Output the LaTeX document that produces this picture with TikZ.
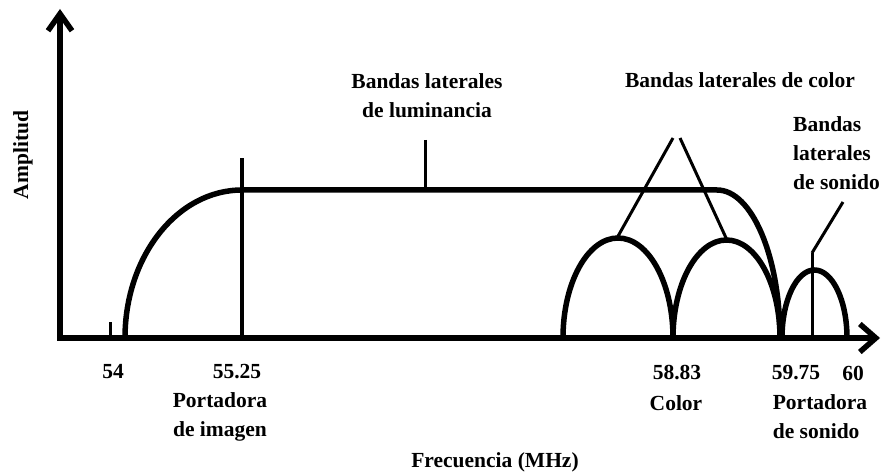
\documentclass[tikz,border=0pt]{standalone}
\usepackage{fontspec}
\setmainfont{Liberation Serif}
\usepackage{tikz}
\usetikzlibrary{arrows.meta}

\begin{document}
\begin{tikzpicture}[x=1pt,y=1pt,
  eje/.style={line width=5.5pt,line join=miter},
  banda/.style={line width=5.5pt},
  guia/.style={line width=3pt},
  etiq/.style={font=\fontsize{21.5}{29}\selectfont\bfseries,inner sep=0pt}]

\useasboundingbox (0,0) rectangle (887,472);

\coordinate (O) at (60,134);											% origen
\coordinate (ytop) at (60,463);											% punta eje y
\coordinate (xend) at (880,134);										% punta eje x
\draw[eje,{Straight Barb[length=17pt,width=24pt]}-{Straight Barb[length=16pt,width=28pt]}] (ytop) -- (O) -- (xend);	% ejes
\node[etiq,rotate=90] (amp) at (23,317) {Amplitud};

\draw[banda] (125,134) arc[start angle=180,end angle=90,x radius=117,y radius=148] -- (717,282)
  arc[start angle=90,end angle=0,x radius=63,y radius=148];				% luminancia
\draw[banda] (563,134) arc[start angle=180,end angle=0,x radius=55,y radius=100];		% color 1
\draw[banda] (673,134) arc[start angle=180,end angle=0,x radius=53.5,y radius=98];	% color 2
\draw[banda] (782,134) arc[start angle=180,end angle=0,x radius=32.5,y radius=68];	% sonido

\coordinate (c54) at (110,134);
\coordinate (c54t) at (110,150);
\coordinate (cim) at (242,134);
\coordinate (cimt) at (242,314);
\coordinate (cso) at (812,134);
\coordinate (csot) at (812,219);
\draw[line width=3pt] (c54) -- (c54t);									% marca 54
\draw[line width=4.5pt] (cim) -- (cimt);								% portadora de imagen
\draw[guia] (cso) -- (csot);											% portadora de sonido

\node[etiq,align=center] (lum) at (427,376) {Bandas laterales\\de luminancia};
\node[etiq] (col) at (740,392) {Bandas laterales de color};
\node[etiq,align=left,anchor=west] (son) at (793,319) {Bandas\\laterales\\de sonido};

\coordinate (lumA) at (425,332);
\coordinate (lumB) at (425,282);
\coordinate (colA) at (673,334);
\coordinate (colB) at (617,234);
\coordinate (colC) at (680,334);
\coordinate (colD) at (727,232);
\coordinate (sonA) at (843,270);
\draw[guia] (lumA) -- (lumB);											% guia luminancia
\draw[guia] (colA) -- (colB);											% guia color 1
\draw[guia] (colC) -- (colD);											% guia color 2
\draw[guia] (sonA) -- (csot);											% guia sonido

\node[etiq] (f54) at (113,100) {54};
\node[etiq] (f5525) at (237,100) {55.25};
\node[etiq,align=center] (pim) at (220,55) {Portadora\\de imagen};
\node[etiq] (f5883) at (677,99) {58.83};
\node[etiq] (fcol) at (676,69) {Color};
\node[etiq] (f5975) at (796,99) {59.75};
\node[etiq] (f60) at (853,99) {60};
\node[etiq,align=left] (pso) at (820,55) {Portadora\\de sonido};
\node[etiq] (frec) at (495,10) {Frecuencia (MHz)};

\end{tikzpicture}
\end{document}
